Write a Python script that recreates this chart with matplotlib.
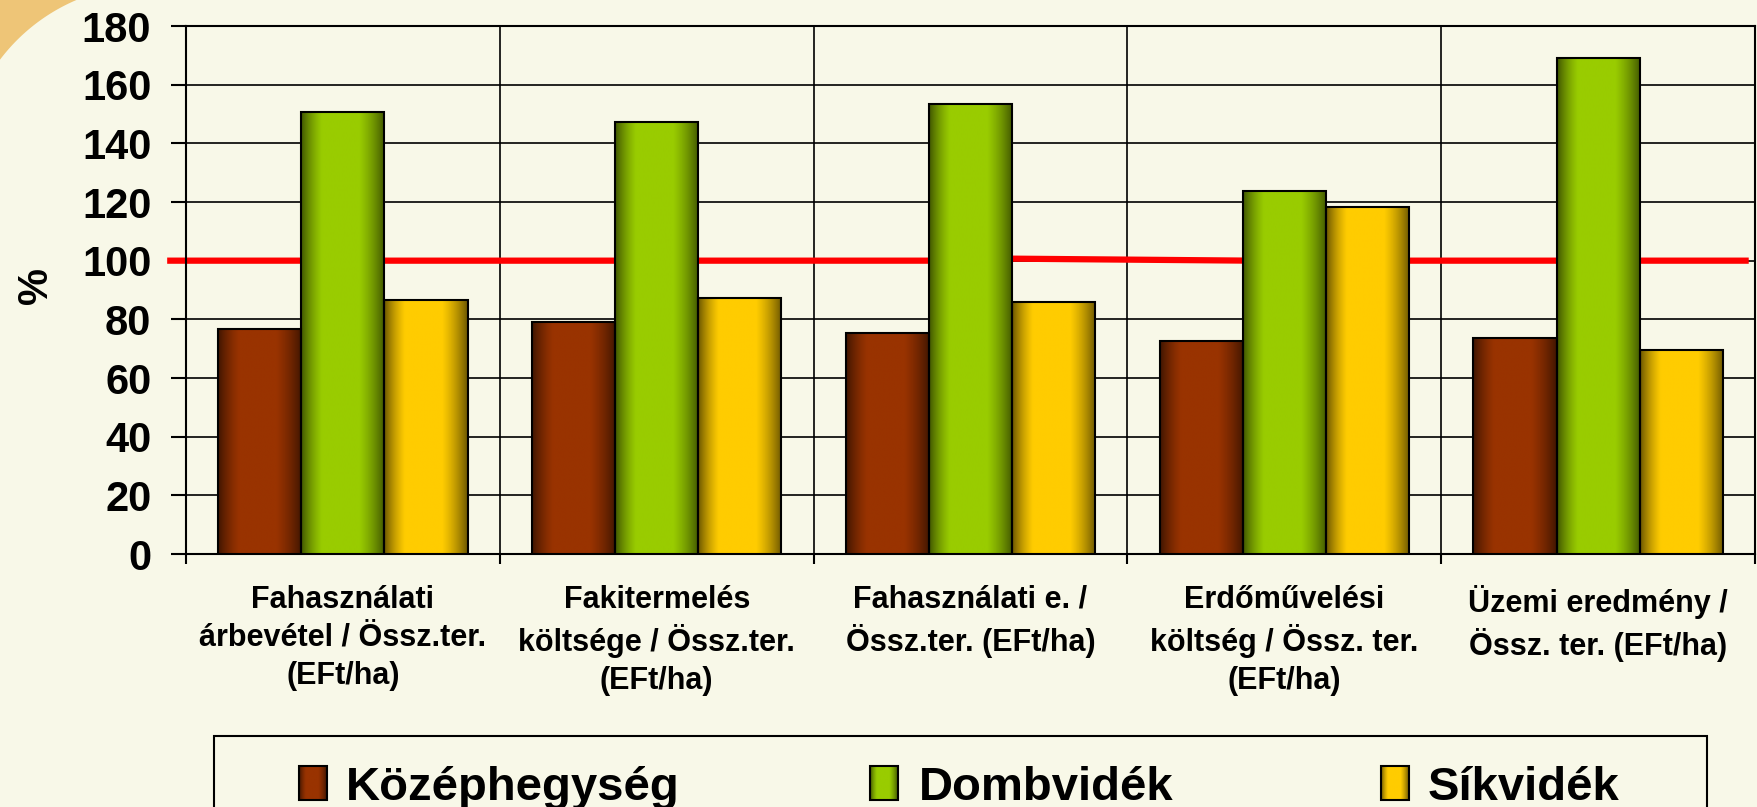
import matplotlib
matplotlib.use("Agg")
import matplotlib.pyplot as plt
import numpy as np
from matplotlib.colors import to_rgb
from matplotlib.patches import Rectangle, Polygon

plt.rcParams['font.family'] = ['Liberation Sans', 'DejaVu Sans']
plt.rcParams['font.weight'] = 'bold'

# data
categories = ["Fahasználati\nárbevétel / Össz.ter.\n(EFt/ha)",
              "Fakitermelés\nköltsége / Össz.ter.\n(EFt/ha)",
              "Fahasználati e. /\nÖssz.ter. (EFt/ha)",
              "Erdőművelési\nköltség / Össz. ter.\n(EFt/ha)",
              "Üzemi eredmény /\nÖssz. ter. (EFt/ha)"]
series_names = ["Középhegység", "Dombvidék", "Síkvidék"]
kozephegyseg = [76.6, 79.2, 75.3, 72.7, 73.8]
dombvidek = [150.6, 147.2, 153.3, 123.9, 169.1]
sikvidek = [86.5, 87.2, 86.0, 118.2, 69.6]
ref_x = [-0.56, 2.0, 2.0, 2.9, 4.48]
ref_y = [100, 100, 100.8, 100, 100]
y_ticks = [0, 20, 40, 60, 80, 100, 120, 140, 160, 180]

colors = ["#993300", "#99CC00", "#FFCC00"]
bg = "#F8F8E8"
W, H = 1758, 807


def shade(hexcol, n=200):
    c = np.array(to_rgb(hexcol))
    t = np.linspace(0, 1, n)
    d = np.where(t < 0.45, (t - 0.45) / 0.45, (t - 0.45) / 0.55)
    s = np.clip(1.25 * (1 - d ** 2), 0, 1)
    dark = c * 0.42
    cols = dark[None, :] + (c - dark)[None, :] * s[:, None]
    return cols[None, :, :]


fig = plt.figure(figsize=(W / 100, H / 100), dpi=100)
fig.patch.set_facecolor(bg)

# background layer (corner decoration + legend), pixel coords
bax = fig.add_axes([0, 0, 1, 1], zorder=0)
bax.set_xlim(0, W)
bax.set_ylim(H, 0)
bax.axis("off")
cx, cy, r = 150, 173, 188
a0 = np.arctan2(0 - cy, 77 - cx)
a1 = np.arctan2(60 - cy, 0 - cx)
aa = np.linspace(a0, a1, 60)
arc = np.column_stack([cx + r * np.cos(aa), cy + r * np.sin(aa)])
bax.add_patch(Polygon(np.vstack([[[0, 0]], arc]), closed=True, facecolor="#EEC577", edgecolor="none"))

# main plot
ax = fig.add_axes([186 / W, (H - 554) / H, (1755 - 186) / W, (554 - 26) / H], zorder=1)
ax.set_facecolor("none")

x = np.arange(len(categories))
width = 0.265
all_series = [kozephegyseg, dombvidek, sikvidek]
for i, (vals, col) in enumerate(zip(all_series, colors)):
    bars = ax.bar(x + (i - 1) * width, vals, width, facecolor="none",
                  edgecolor="black", linewidth=1.5, zorder=4)
    for b in bars:
        x0, y0 = b.get_x(), b.get_y()
        ax.imshow(shade(col), extent=(x0, x0 + b.get_width(), y0, y0 + b.get_height()),
                  aspect="auto", zorder=3, interpolation="bilinear")

ax.plot(ref_x, ref_y, color="#FF0000", linewidth=4.5, zorder=2, clip_on=False,
        solid_capstyle="butt")

ax.set_xlim(-0.5, 4.5)
ax.set_ylim(0, 180)
ax.set_yticks(y_ticks)
ax.set_xticks(x)
ax.set_xticklabels(categories, fontsize=22, fontweight="bold", linespacing=1.35)
ax.set_xticks(np.arange(-0.5, 5, 1), minor=True)
ax.tick_params(axis="x", which="major", length=0, pad=22)
ax.tick_params(axis="x", which="minor", length=7, width=1.5, direction="out")
ax.tick_params(axis="y", which="major", length=11, width=1.5, pad=14, labelsize=30)
for lab in ax.get_yticklabels():
    lab.set_fontweight("bold")
ax.grid(axis="y", which="major", color="black", linewidth=1.2, zorder=1)
ax.grid(axis="x", which="minor", color="black", linewidth=1.2, zorder=1)
ax.set_axisbelow(True)
for sp in ax.spines.values():
    sp.set_color("black")
    sp.set_linewidth(1.5)

bax.text(36, 286, "%", fontsize=30, fontweight="bold", rotation=90, ha="center", va="center")

# legend drawn by hand
bax.add_patch(Rectangle((214, 736), 1707 - 214, 90, facecolor=bg, edgecolor="black", linewidth=1.5))
sq_x = [299, 870, 1381]
tx_x = [346, 919, 1428]
for sx, tx, name, col in zip(sq_x, tx_x, series_names, colors):
    bax.imshow(shade(col), extent=(sx, sx + 28, 800, 766), aspect="auto", zorder=3)
    bax.add_patch(Rectangle((sx, 766), 28, 34, facecolor="none", edgecolor="black", linewidth=1.5, zorder=4))
    bax.text(tx, 800, name, fontsize=34, fontweight="bold", va="baseline", ha="left")
bax.set_xlim(0, W)
bax.set_ylim(H, 0)

fig.savefig("out.png", dpi=100, facecolor=bg)
